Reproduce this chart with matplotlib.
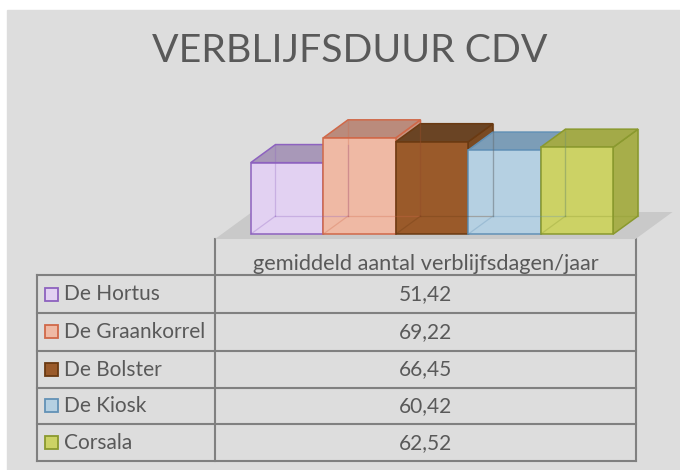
import numpy as np
import matplotlib
matplotlib.use('Agg')
import matplotlib.pyplot as plt
from matplotlib.patches import Polygon, Rectangle

# data
title = 'VERBLIJFSDUUR CDV'
series_name = 'gemiddeld aantal verblijfsdagen/jaar'
names = ['De Hortus', 'De Graankorrel', 'De Bolster', 'De Kiosk', 'Corsala']
values = [51.42, 69.22, 66.45, 60.42, 62.52]
value_labels = ['51,42', '69,22', '66,45', '60,42', '62,52']

# colours per bar: front, top, side, edge
fronts = ['#e2d1f2', '#efb9a4', '#9a5a2a', '#b5d0e2', '#ccd265']
tops = ['#a898b8', '#ba8b7c', '#6a4424', '#7c9db7', '#a3aa48']
sides = ['#b9a6cc', '#c9937f', '#7a4a22', '#8fb0c8', '#a7ae4a']
edges = ['#8d62bf', '#d06848', '#6a3a12', '#6291b6', '#8a992e']

txt = '#595959'
grid = '#808080'
font = 'Lato'

fig = plt.figure(figsize=(6.8, 4.7), dpi=100)

# background / layout axes in pixel coords
bg = fig.add_axes([0, 0, 1, 1])
bg.set_xlim(0, 680)
bg.set_ylim(470, 0)
bg.axis('off')
bg.add_patch(Rectangle((7, 10), 680, 470, color='#dddddd', zorder=0))

bg.text(350, 62.5, title, ha='center', va='baseline', fontsize=28.3,
        color=txt, family=font)

# bar axes (oblique 3d look)
ax = fig.add_axes([205/680, 220/470, 475/680, 160/470])
ax.set_xlim(-1.0386, 5.513)
ax.set_ylim(-7.91, 107.19)
ax.axis('off')
ax.patch.set_alpha(0)

DX, DY = 0.51, 19.42   # depth shift for z = 1
z0, z1 = 0.18, 0.85

def P(x, y, z):
    return (x + DX*z, y + DY*z)

# floor
floor = [P(-0.9, 0, 0), P(4.9, 0, 0), P(4.9, 0, 1), P(-0.9, 0, 1)]
ax.add_patch(Polygon(floor, closed=True, fc='#c9c9c9', ec='none'))

for i, h in enumerate(values):
    xl, xr = i - 0.5, i + 0.5
    front = [P(xl, 0, z0), P(xr, 0, z0), P(xr, h, z0), P(xl, h, z0)]
    top = [P(xl, h, z0), P(xr, h, z0), P(xr, h, z1), P(xl, h, z1)]
    side = [P(xr, 0, z0), P(xr, 0, z1), P(xr, h, z1), P(xr, h, z0)]
    ax.add_patch(Polygon(side, closed=True, fc=sides[i], ec=edges[i], lw=1.1))
    ax.add_patch(Polygon(top, closed=True, fc=tops[i], ec=edges[i], lw=1.1))
    ax.add_patch(Polygon(front, closed=True, fc=fronts[i], ec=edges[i], lw=1.1))
    # hidden edges seen through the glassy box
    for a, b in [(P(xl, 0, z1), P(xl, h, z1)), (P(xl, 0, z1), P(xr, 0, z1)),
                 (P(xl, 0, z0), P(xl, 0, z1)), (P(xr, 0, z1), P(xr, h, z1))]:
        ax.plot([a[0], b[0]], [a[1], b[1]], color=edges[i], lw=0.9, alpha=0.3)

# data table
rows = [275, 313, 350.5, 387.5, 424, 460.5]
xL, xM, xR = 37, 215, 636
bg.plot([xM, xM], [239, rows[-1]], color=grid, lw=1.5)
bg.plot([xR, xR], [239, rows[-1]], color=grid, lw=1.5)
bg.plot([xL, xL], [rows[0], rows[-1]], color=grid, lw=1.5)
for yy in rows:
    bg.plot([xL, xR], [yy, yy], color=grid, lw=1.5)

bg.text((xM + xR)/2, 270.5, series_name, ha='center', va='baseline',
        fontsize=15.7, color=txt, family=font)

for i, name in enumerate(names):
    yc = (rows[i] + rows[i+1]) / 2
    bg.add_patch(Rectangle((45, yc - 6.5), 13, 13, fc=fronts[i],
                           ec=edges[i], lw=1.3))
    bg.text(64, yc + 6.5, name, ha='left', va='baseline', fontsize=15,
            color=txt, family=font)
    bg.text((xM + xR)/2, yc + 6.5, value_labels[i], ha='center',
            va='baseline', fontsize=15, color=txt, family=font)

fig.savefig('out.png', dpi=100)
